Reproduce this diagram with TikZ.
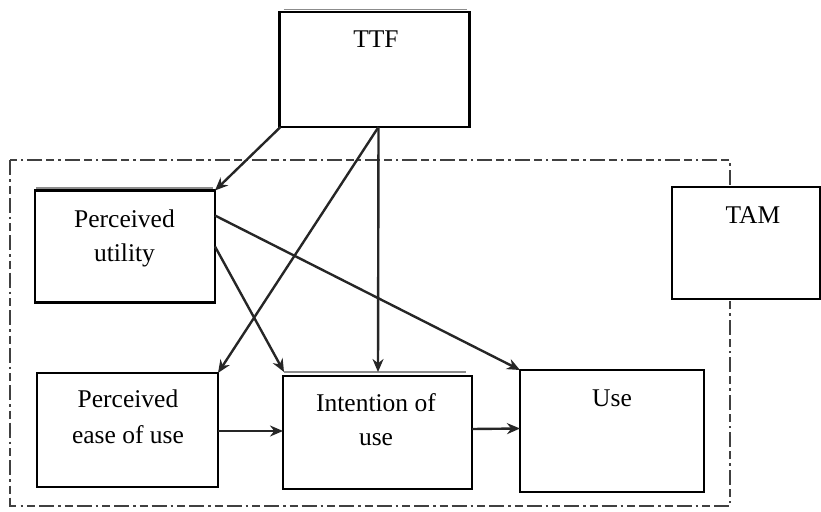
\documentclass[tikz,border=0pt]{standalone}
\usepackage{fontspec}
\setmainfont{Liberation Serif}
\usetikzlibrary{arrows.meta,calc}
\begin{document}
\begin{tikzpicture}[x=1pt,y=-1pt,
  box/.style={draw=black,line width=2.5pt,rectangle,inner sep=0pt,outer sep=0pt},
  txt/.style={anchor=base,inner sep=0pt,font=\fontsize{25.5}{34}\selectfont,text=black},
  conn/.style={draw=black!85,line width=2.4pt,-{Stealth[length=13pt,width=11pt]}},
  shade/.style={draw=black!45,line width=1.6pt},
  tamframe/.style={draw=black!75,line width=2pt,dash pattern=on 15pt off 4pt on 2.5pt off 4pt on 8pt off 4pt}]
\useasboundingbox (0,0) rectangle (821,511);
% frame
\draw[tamframe] (10,160) rectangle (730,506);
% boxes
\node[box,minimum width=190pt,minimum height=115pt] (ttf) at (374.5,69.5) {};
\node[box,fill=white,minimum width=148pt,minimum height=112pt] (tam) at (746,243) {};
\node[box,minimum width=180pt,minimum height=112pt] (pu) at (125,246.5) {};
\node[box,minimum width=181pt,minimum height=114pt] (peu) at (127.5,430) {};
\node[box,minimum width=189pt,minimum height=113pt] (iu) at (377.5,432.5) {};
\node[box,minimum width=184pt,minimum height=122pt] (use) at (612,431) {};
% shadow lines
\draw[shade] ($(ttf.north west)+(4,-2.5)$) -- ($(ttf.north east)+(-3,-2.5)$);
\draw[shade] ($(pu.north west)+(1,-2.5)$) -- ($(pu.north east)+(-2,-2.5)$);
\draw[shade] ($(iu.north west)+(1,-4)$) -- ($(iu.north east)+(-6,-4)$);
% texts
\node[txt] (ttft) at (376,48) {TTF};
\node[txt] (tamt) at (753,223) {TAM};
\node[txt] (put1) at (124.5,227) {Perceived};
\node[txt] (put2) at (124.5,261) {utility};
\node[txt] (peut1) at (128,407) {Perceived};
\node[txt] (peut2) at (128,443) {ease of use};
\node[txt] (iut1) at (376,411) {Intention of};
\node[txt] (iut2) at (376,445) {use};
\node[txt] (uset) at (612,406) {Use};
% anchors
\coordinate (ttfa) at ($(ttf.south west)+(1,0)$);
\coordinate (ttfb) at ($(ttf.south west)+(99,0)$);
\coordinate (pua) at ($(pu.north east)+(0,25)$);
\coordinate (iutop) at ($(iu.north)+(0.5,-4)$);
\coordinate (iutl) at ($(iu.north west)+(1,-4)$);
% connectors
\draw[conn] (ttfa) -- (pu.north east);
\draw[conn] (ttfb) -- (peu.north east);
\draw[conn] (ttfb) -- (iutop);
\draw[conn] (pu.east) -- (iutl);
\draw[conn] (pua) -- (use.north west);
\draw[conn] ($(peu.east)+(0,1)$) -- ($(iu.west)+(0,-1.5)$);
\draw[conn] ($(iu.east)+(0,-3.5)$) -- ($(use.west)+(0,-2.5)$);
\end{tikzpicture}
\end{document}
